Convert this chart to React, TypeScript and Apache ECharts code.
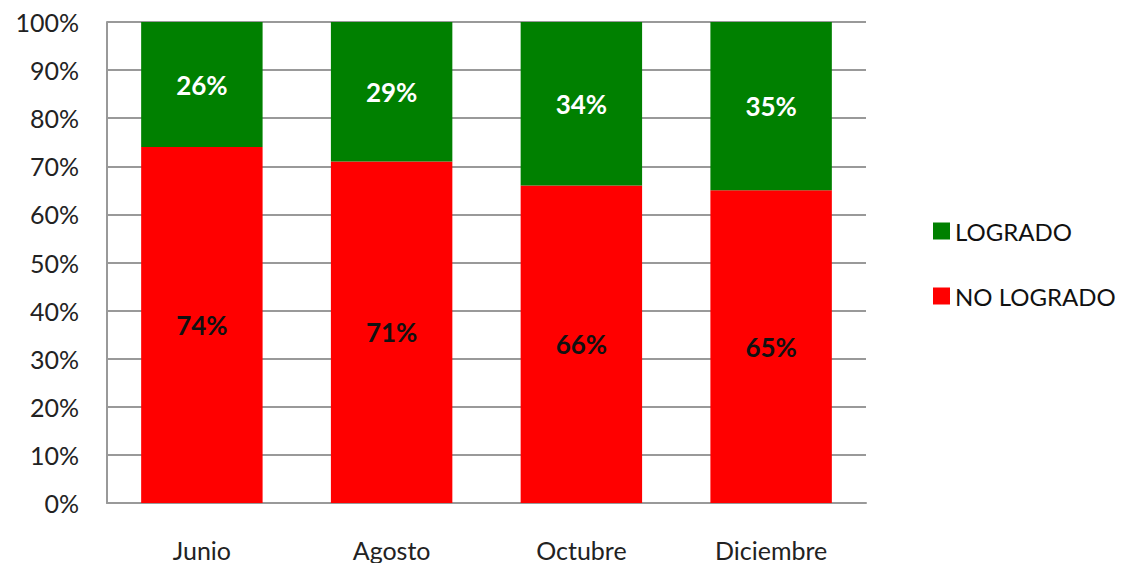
import React, { useEffect, useRef } from "react";
import * as echarts from "echarts";

const categories = ["Junio", "Agosto", "Octubre", "Diciembre"];
const logrado = [26, 29, 34, 35];
const noLogrado = [74, 71, 66, 65];
const yTicks = [0, 10, 20, 30, 40, 50, 60, 70, 80, 90, 100];

const FONT = "Lato, 'Open Sans', sans-serif";

export default function App() {
  const ref = useRef<HTMLDivElement>(null);
  useEffect(() => {
    if (!ref.current) return;
    const chart = echarts.init(ref.current, undefined, { renderer: "svg" });
    chart.setOption({
      animation: false,
      backgroundColor: "#ffffff",
      textStyle: { fontFamily: FONT },
      grid: { left: 107, right: 264, top: 22, bottom: 68, containLabel: false },
      legend: {
        orient: "vertical",
        left: 933,
        top: 219,
        padding: 0,
        data: ["LOGRADO", "NO LOGRADO"],
        icon: "rect",
        itemWidth: 17,
        itemHeight: 17,
        itemGap: 41,
        textStyle: { fontSize: 24, color: "#111", fontFamily: FONT, lineHeight: 24 },
      },
      xAxis: {
        type: "category",
        data: categories,
        axisLine: { show: true, lineStyle: { color: "#999", width: 2 } },
        axisTick: { show: false },
        axisLabel: { fontSize: 25, color: "#222", margin: 34, fontFamily: FONT },
      },
      yAxis: {
        type: "value",
        min: yTicks[0],
        max: yTicks[yTicks.length - 1],
        interval: 10,
        axisLine: { show: true, lineStyle: { color: "#999", width: 2 } },
        axisTick: { show: false },
        splitLine: { show: true, lineStyle: { color: "#999", width: 2 } },
        axisLabel: {
          fontSize: 25,
          color: "#222",
          margin: 28,
          fontFamily: FONT,
          formatter: (v: number) => `${v}%`,
        },
      },
      series: [
        {
          name: "NO LOGRADO",
          type: "bar",
          stack: "total",
          data: noLogrado,
          barWidth: "64%",
          itemStyle: { color: "#ff0000" },
          label: {
            show: true,
            position: "inside",
            formatter: "{c}%",
            fontSize: 26,
            fontWeight: "bold",
            color: "#111",
            fontFamily: FONT,
          },
        },
        {
          name: "LOGRADO",
          type: "bar",
          stack: "total",
          data: logrado,
          barWidth: "64%",
          itemStyle: { color: "#008000" },
          label: {
            show: true,
            position: "inside",
            formatter: "{c}%",
            fontSize: 26,
            fontWeight: "bold",
            color: "#ffffff",
            fontFamily: FONT,
          },
        },
      ],
    });
    return () => chart.dispose();
  }, []);
  return <div ref={ref} style={{ width: 1130, height: 571, margin: -8 }} />;
}
